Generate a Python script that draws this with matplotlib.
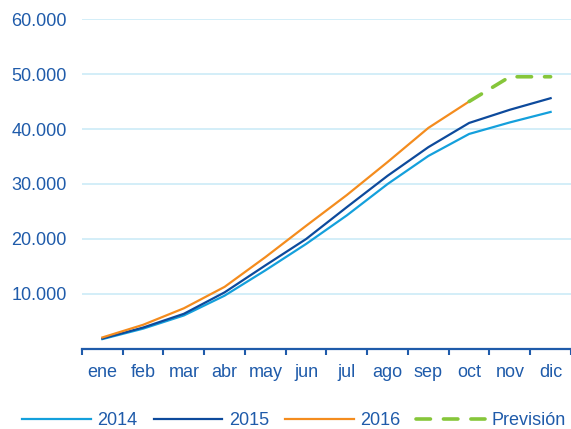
import numpy as np
import matplotlib.pyplot as plt
from matplotlib.ticker import FuncFormatter

plt.rcParams['font.family'] = ['Liberation Sans', 'DejaVu Sans']

meses = ['ene', 'feb', 'mar', 'abr', 'may', 'jun', 'jul', 'ago', 'sep', 'oct', 'nov', 'dic']
v2014 = [1800, 3700, 6100, 9700, 14300, 19100, 24300, 30000, 35100, 39100, 41200, 43100]
v2015 = [1900, 3900, 6400, 10300, 15200, 20000, 25800, 31500, 36700, 41100, 43500, 45600]
v2016 = [2100, 4400, 7400, 11300, 16700, 22400, 28000, 34000, 40200, 45000]
prevision = [np.nan] * 9 + [45000, 49500, 49500]

azul_txt = '#1F5BAA'

fig = plt.figure(figsize=(5.71, 4.29), dpi=100)
ax = fig.add_axes([0.1436, 0.1865, 0.8564, 0.7692])

x = np.arange(len(meses))
ax.plot(x, v2014, color='#14A0DC', lw=1.6, label='2014')
ax.plot(x, v2015, color='#0D4A9C', lw=1.6, label='2015')
ax.plot(x[:len(v2016)], v2016, color='#F48C1E', lw=1.6, label='2016')
ax.plot(x, prevision, color='#86C63A', lw=2.6, ls=(0, (4, 3.6)),
        dash_capstyle='round', label='Previsión')

ax.set_xlim(-0.5, 11.5)
ax.set_ylim(0, 60000)
ax.set_yticks(np.arange(10000, 60001, 10000))
ax.yaxis.set_major_formatter(FuncFormatter(lambda v, p: f'{int(v):,}'.replace(',', '.')))
ax.grid(axis='y', color='#C8EAF6', lw=1.1)
ax.set_axisbelow(True)

ax.set_xticks(np.arange(-0.5, 12, 1))
ax.set_xticklabels([])
ax.set_xticks(x, minor=True)
ax.set_xticklabels(meses, minor=True)

for s in ['top', 'right', 'left']:
    ax.spines[s].set_visible(False)
ax.spines['bottom'].set_color('#1F5BAA')
ax.spines['bottom'].set_linewidth(1.6)

ax.tick_params(axis='x', which='major', direction='out', length=4, width=1.5, color='#1F5BAA')
ax.tick_params(axis='x', which='minor', length=0, pad=11, labelsize=13, labelcolor=azul_txt)
ax.tick_params(axis='y', length=0, pad=11, labelsize=13, labelcolor=azul_txt)

leg = fig.legend(loc='lower center', bbox_to_anchor=(0.515, -0.038), ncol=4, frameon=False,
                 fontsize=13, handlelength=3.8, columnspacing=0.9, handletextpad=0.35)
for t in leg.get_texts():
    t.set_color(azul_txt)

fig.savefig('out.png', dpi=100)
